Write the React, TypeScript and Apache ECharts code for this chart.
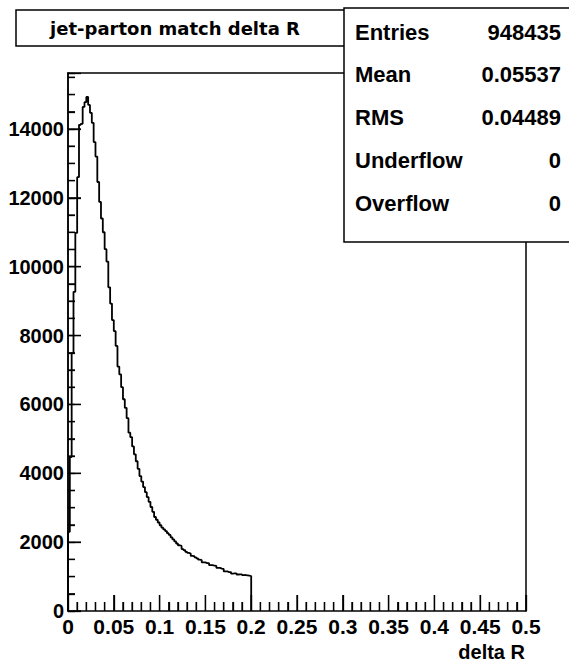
import React, { useEffect, useRef } from "react";
import * as echarts from "echarts";

// Histogram: jet-parton match delta R, 0.002 wide bins from 0 to 0.2 (all other bins empty)
const binWidth = 0.002;
const binCounts = [
  2300, 4470, 7490, 9270, 10980, 12600, 14120, 14150, 14640, 14780,
  14930, 14700, 14470, 14180, 13620, 13200, 12460, 11880, 11400, 11000,
  10510, 10150, 9400, 8930, 8450, 8130, 7700, 7100, 6870, 6500,
  6150, 5900, 5600, 5180, 5050, 4780, 4550, 4350, 4130, 3920,
  3760, 3600, 3450, 3310, 3170, 3020, 2880, 2730, 2650, 2570,
  2490, 2420, 2370, 2320, 2260, 2210, 2140, 2080, 2020, 1960,
  1910, 1890, 1800, 1770, 1720, 1690, 1670, 1600, 1590, 1560,
  1530, 1490, 1480, 1410, 1410, 1390, 1390, 1330, 1335, 1315,
  1310, 1250, 1250, 1230, 1220, 1150, 1150, 1130, 1130, 1085,
  1090, 1095, 1060, 1062, 1065, 1040, 1045, 1035, 1025, 1015,
];

const xMin = 0;
const xMax = 0.5;
const xStep = 0.05;
const xMinorPerMajor = 5;
const yMin = 0;
const yMax = 15626;
const yMajorStep = 2000;
const yMinorStep = 500;

const titleText = "jet-parton match delta R";
const xAxisTitle = "delta R";
const statsLabels = ["Entries", "Mean", "RMS", "Underflow", "Overflow"];
const statsValues = ["948435", "0.05537", "0.04489", "0", "0"];

const FONT = "'Liberation Sans', Arial, Helvetica, sans-serif";
const frameLine = { show: true, onZero: false, lineStyle: { color: "#000", width: 1.5 } };
const tickStyle = { color: "#000", width: 1.3 };

export default function App() {
  const ref = useRef<HTMLDivElement>(null);

  useEffect(() => {
    if (!ref.current) return;
    const chart = echarts.init(ref.current, null, { renderer: "svg" });

    const points: [number, number][] = [[0, 0]];
    binCounts.forEach((c, i) => points.push([i * binWidth, c]));
    const lastEdge = binCounts.length * binWidth;
    points.push([lastEdge, binCounts[binCounts.length - 1]]);
    points.push([lastEdge, 0]);

    // tick marks (value, isMajor) derived from the axis settings
    const xTicks: number[][] = [];
    const nx = Math.round((xMax - xMin) / xStep) * xMinorPerMajor;
    for (let k = 0; k <= nx; k++) {
      xTicks.push([xMin + (k * xStep) / xMinorPerMajor, yMin, k % xMinorPerMajor === 0 ? 1 : 0]);
    }
    const yTicks: number[][] = [];
    for (let v = yMin; v <= yMax; v += yMinorStep) {
      yTicks.push([xMin, v, v % yMajorStep === 0 ? 1 : 0]);
    }

    const statsGraphics: any[] = [];
    statsLabels.forEach((lab, i) => {
      const y = 32 + i * 42.75;
      statsGraphics.push({
        type: "text",
        x: 355,
        y,
        z: 101,
        style: {
          text: lab,
          fontFamily: FONT,
          fontWeight: "bold",
          fontSize: 22,
          fill: "#000",
          align: "left",
          verticalAlign: "middle",
        },
      });
      statsGraphics.push({
        type: "text",
        x: 561,
        y,
        z: 101,
        style: {
          text: statsValues[i],
          fontFamily: FONT,
          fontWeight: "bold",
          fontSize: 22,
          fill: "#000",
          align: "right",
          verticalAlign: "middle",
        },
      });
    });

    const option: any = {
      animation: false,
      backgroundColor: "#fff",
      grid: { left: 68, top: 73, width: 458, height: 538 },
      xAxis: [
        {
          type: "value",
          position: "bottom",
          min: xMin,
          max: xMax,
          interval: xStep,
          axisLine: frameLine,
          splitLine: { show: false },
          axisTick: { show: true, inside: true, length: 16, lineStyle: tickStyle },
          minorTick: { show: true, splitNumber: xMinorPerMajor, length: 9, lineStyle: tickStyle },
          axisLabel: {
            margin: 5,
            color: "#000",
            fontFamily: FONT,
            fontWeight: "bold",
            fontSize: 21,
            formatter: (v: number) => String(+v.toFixed(2)),
          },
        },
        {
          type: "value",
          position: "top",
          min: xMin,
          max: xMax,
          axisLine: frameLine,
          splitLine: { show: false },
          axisTick: { show: false },
          axisLabel: { show: false },
        },
      ],
      yAxis: [
        {
          type: "value",
          min: yMin,
          max: yMax,
          interval: yMajorStep,
          position: "left",
          axisLine: frameLine,
          splitLine: { show: false },
          axisTick: { show: true, inside: true, length: 13, lineStyle: tickStyle },
          axisLabel: {
            margin: 4,
            color: "#000",
            fontFamily: FONT,
            fontWeight: "bold",
            fontSize: 20,
            formatter: (v: number) => (v % yMajorStep === 0 ? String(v) : ""),
          },
        },
        {
          type: "value",
          min: yMin,
          max: yMax,
          interval: yMinorStep,
          position: "left",
          offset: 0,
          axisLine: frameLine,
          splitLine: { show: false },
          axisTick: { show: true, inside: true, length: 7, lineStyle: tickStyle },
          axisLabel: { show: false },
        },
        {
          type: "value",
          min: yMin,
          max: yMax,
          position: "right",
          offset: 0,
          axisLine: frameLine,
          splitLine: { show: false },
          axisTick: { show: false },
          axisLabel: { show: false },
        },
      ],
      series: [
        {
          type: "line",
          xAxisIndex: 0,
          yAxisIndex: 0,
          step: "end",
          symbol: "none",
          data: points,
          lineStyle: { color: "#000", width: 1.8 },
          z: 5,
        },
        {
          type: "custom",
          xAxisIndex: 0,
          yAxisIndex: 0,
          clip: false,
          silent: true,
          data: xTicks,
          encode: { x: 0, y: 1 },
          renderItem: (params: any, api: any) => {
            const p = api.coord([api.value(0), api.value(1)]);
            const len = api.value(2) ? 16 : 9;
            return {
              type: "line",
              shape: { x1: p[0], y1: p[1], x2: p[0], y2: p[1] - len },
              style: { stroke: "#000", lineWidth: 1.3 },
            };
          },
          z: 10,
        },
        {
          type: "custom",
          xAxisIndex: 0,
          yAxisIndex: 0,
          clip: false,
          silent: true,
          data: yTicks,
          encode: { x: 0, y: 1 },
          renderItem: (params: any, api: any) => {
            const p = api.coord([api.value(0), api.value(1)]);
            const len = api.value(2) ? 13 : 7;
            return {
              type: "line",
              shape: { x1: p[0], y1: p[1], x2: p[0] + len, y2: p[1] },
              style: { stroke: "#000", lineWidth: 1.3 },
            };
          },
          z: 10,
        },
      ],
      graphic: [
        {
          type: "rect",
          z: 100,
          shape: { x: 16, y: 10, width: 329, height: 36 },
          style: { fill: "#fff", stroke: "#000", lineWidth: 1.5 },
        },
        {
          type: "text",
          z: 101,
          x: 175,
          y: 28,
          style: {
            text: titleText,
            fontFamily: "'DejaVu Sans', sans-serif",
            fontWeight: "bold",
            fontSize: 18,
            fill: "#000",
            align: "center",
            verticalAlign: "middle",
          },
        },
        {
          type: "rect",
          z: 100,
          shape: { x: 344, y: 8, width: 240, height: 234 },
          style: { fill: "#fff", stroke: "#000", lineWidth: 1.5 },
        },
        ...statsGraphics,
        {
          type: "text",
          z: 101,
          x: 525,
          y: 652,
          style: {
            text: xAxisTitle,
            fontFamily: FONT,
            fontWeight: "bold",
            fontSize: 20,
            fill: "#000",
            align: "right",
            verticalAlign: "middle",
          },
        },
      ],
    };

    chart.setOption(option);
    return () => chart.dispose();
  }, []);

  return (
    <div
      ref={ref}
      style={{ position: "absolute", left: 0, top: 0, width: 569, height: 666, background: "#fff" }}
    />
  );
}
